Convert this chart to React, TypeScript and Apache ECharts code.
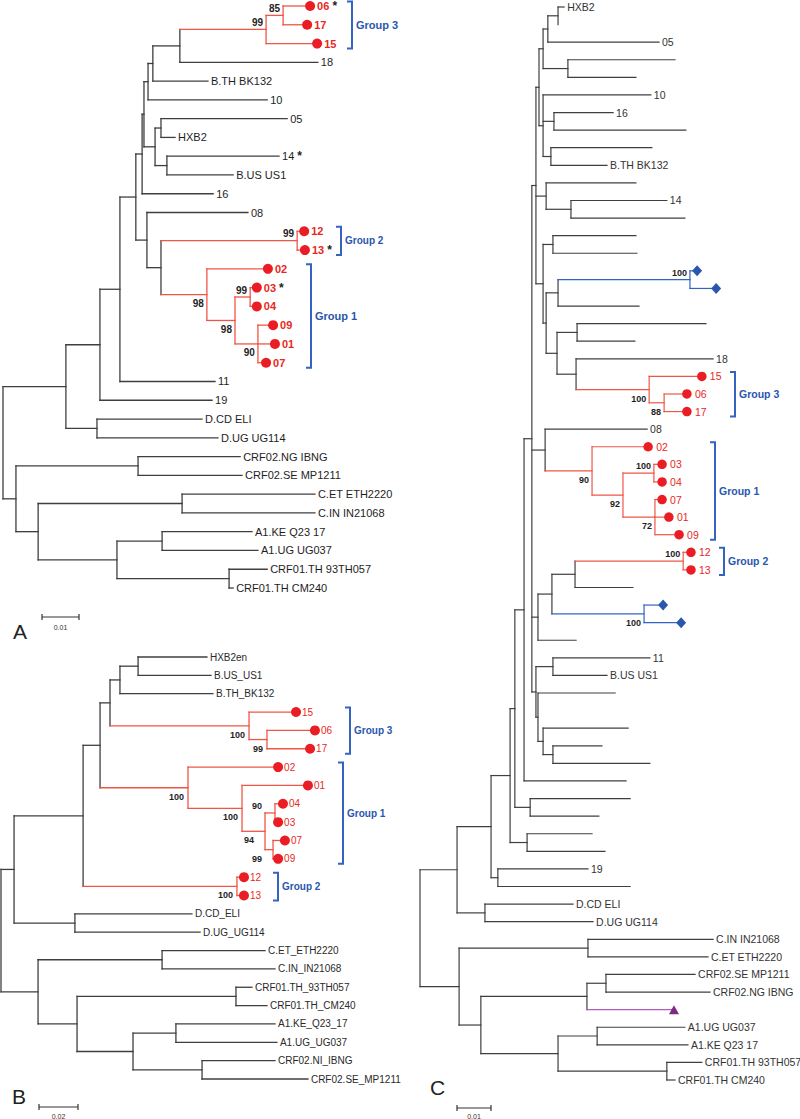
import React, { useEffect, useRef } from "react";
import * as echarts from "echarts";

type Row = [string, string, number]; // node id, parent id, depth from root (substitutions/site)

// ---------------- Panel A ----------------
const treeA: Row[] = [
  ["rA", "", 0],
  ["U", "rA", 0.017],
  ["B1", "U", 0.0262],
  ["C1", "B1", 0.0316],
  ["E1", "C1", 0.0359],
  ["F1", "E1", 0.0376],
  ["F2", "F1", 0.0381],
  ["F3", "F2", 0.0392],
  ["F3b", "F3", 0.0405],
  ["F3c", "F3b", 0.0478],
  ["G3", "F3c", 0.0711],
  ["G3b", "G3", 0.0757],
  ["06", "G3b", 0.083],
  ["17", "G3b", 0.0822],
  ["15", "G3", 0.0849],
  ["18", "F3c", 0.0851],
  ["B.TH BK132", "F3b", 0.0554],
  ["10", "F3", 0.0714],
  ["F4", "F2", 0.0411],
  ["n05", "F4", 0.0427],
  ["05", "n05", 0.0768],
  ["HXB2", "n05", 0.0465],
  ["n14", "F4", 0.0443],
  ["14", "n14", 0.0746],
  ["B.US US1", "n14", 0.0622],
  ["16", "F1", 0.0568],
  ["G1n", "E1", 0.0389],
  ["08", "G1n", 0.0662],
  ["H", "G1n", 0.0427],
  ["G2", "H", 0.0795],
  ["12", "G2", 0.0814],
  ["13", "G2", 0.0816],
  ["G1r", "H", 0.0551],
  ["02", "G1r", 0.0716],
  ["n235", "G1r", 0.0627],
  ["n0304", "n235", 0.0668],
  ["03", "n0304", 0.0686],
  ["04", "n0304", 0.0686],
  ["n258", "n235", 0.0689],
  ["09", "n258", 0.073],
  ["01", "n258", 0.0735],
  ["07", "n258", 0.0711],
  ["11", "C1", 0.0573],
  ["19", "B1", 0.0565],
  ["Dn", "U", 0.0254],
  ["D.CD ELI", "Dn", 0.0538],
  ["D.UG UG114", "Dn", 0.0581],
  ["L0", "rA", 0.0035],
  ["CRF02n", "L0", 0.0365],
  ["CRF02.NG IBNG", "CRF02n", 0.0641],
  ["CRF02.SE MP1211", "CRF02n", 0.0646],
  ["L1", "L0", 0.0095],
  ["Cn", "L1", 0.0484],
  ["C.ET ETH2220", "Cn", 0.0843],
  ["C.IN IN21068", "Cn", 0.0843],
  ["L2", "L1", 0.0308],
  ["A1n", "L2", 0.043],
  ["A1.KE Q23 17", "A1n", 0.0673],
  ["A1.UG UG037", "A1n", 0.0689],
  ["CRF01n", "L2", 0.0611],
  ["CRF01.TH 93TH057", "CRF01n", 0.0714],
  ["CRF01.TH CM240", "CRF01n", 0.0622],
];
const aRedClades = ["G3", "G2", "G1r"];
const aGroupLeaves = ["06", "17", "15", "12", "13", "02", "03", "04", "09", "01", "07"];
const aStarLeaves = ["06", "13", "03", "14"];
const aBootNodes = ["G3b", "G3", "G2", "n0304", "G1r", "n235", "n258"];
const aBootValues = [85, 99, 99, 99, 98, 98, 90];
const aGroupNames = ["Group 3", "Group 2", "Group 1"];
const aGroupSpans = [["06", "15"], ["12", "13"], ["02", "07"]];
const aScale = 0.01;

// ---------------- Panel B ----------------
const treeB: Row[] = [
  ["rB", "", 0],
  ["BU", "rB", 0.0067],
  ["n83", "BU", 0.0421],
  ["n100", "n83", 0.0508],
  ["n110", "n100", 0.0559],
  ["n120", "n110", 0.061],
  ["n138", "n120", 0.0703],
  ["HXB2en", "n138", 0.1056],
  ["B.US_US1", "n138", 0.1077],
  ["B.TH_BK132", "n120", 0.1087],
  ["G3", "n110", 0.1272],
  ["15", "G3", 0.1513],
  ["G3b", "G3", 0.1364],
  ["06", "G3b", 0.161],
  ["17", "G3b", 0.1585],
  ["G1r", "n100", 0.0959],
  ["02", "G1r", 0.1421],
  ["n242", "G1r", 0.1236],
  ["01", "n242", 0.1574],
  ["n265", "n242", 0.1354],
  ["n0403", "n265", 0.1405],
  ["04", "n0403", 0.1446],
  ["03", "n0403", 0.1421],
  ["n0709", "n265", 0.1395],
  ["07", "n0709", 0.1456],
  ["09", "n0709", 0.1421],
  ["G2", "n83", 0.121],
  ["12", "G2", 0.1246],
  ["13", "G2", 0.1246],
  ["Dn", "BU", 0.0379],
  ["D.CD_ELI", "Dn", 0.0979],
  ["D.UG_UG114", "Dn", 0.1021],
  ["LB", "rB", 0.019],
  ["Cn", "LB", 0.0826],
  ["C.ET_ETH2220", "Cn", 0.1354],
  ["C.IN_IN21068", "Cn", 0.1405],
  ["n77", "LB", 0.039],
  ["CRF01n", "n77", 0.1205],
  ["CRF01.TH_93TH057", "CRF01n", 0.1287],
  ["CRF01.TH_CM240", "CRF01n", 0.1364],
  ["n133", "n77", 0.0677],
  ["A1n", "n133", 0.0897],
  ["A1.KE_Q23_17", "A1n", 0.1405],
  ["A1.UG_UG037", "A1n", 0.1415],
  ["CRF02n", "n133", 0.1031],
  ["CRF02.NI_IBNG", "CRF02n", 0.1405],
  ["CRF02.SE_MP1211", "CRF02n", 0.1574],
];
const bRedClades = ["G3", "G1r", "G2"];
const bGroupLeaves = ["15", "06", "17", "02", "01", "04", "03", "07", "09", "12", "13"];
const bBootNodes = ["G3", "G3b", "G1r", "n242", "n0403", "n265", "n0709", "G2"];
const bBootValues = [100, 99, 100, 100, 90, 94, 99, 100];
const bGroupNames = ["Group 3", "Group 1", "Group 2"];
const bGroupSpans = [["15", "17"], ["02", "09"], ["12", "13"]];
const bScale = 0.02;

// ---------------- Panel C ----------------
const treeC: Row[] = [
  ["rC", "", 0],
  ["U", "rC", 0.0109],
  ["V", "U", 0.0209],
  ["W", "V", 0.0265],
  ["R3", "W", 0.0279],
  ["R2", "R3", 0.0306],
  ["R1", "R2", 0.0329],
  ["M4", "R1", 0.0341],
  ["a5", "M4", 0.035],
  ["a4", "a5", 0.0362],
  ["a2", "a4", 0.0376],
  ["a1", "a2", 0.0406],
  ["HXB2", "a1", 0.0424],
  ["_z1", "a1", 0.0406],
  ["05", "a2", 0.0703],
  ["a3", "a4", 0.0435],
  ["_u3", "a3", 0.075],
  ["_u4", "a3", 0.0635],
  ["a6", "a5", 0.0362],
  ["10", "a6", 0.0679],
  ["a7", "a6", 0.0394],
  ["16", "a7", 0.0568],
  ["_u7", "a7", 0.0782],
  ["a8", "a6", 0.0385],
  ["_u8", "a8", 0.0682],
  ["B.TH BK132", "a8", 0.055],
  ["b1", "M4", 0.0371],
  ["_u10", "b1", 0.0635],
  ["b2", "b1", 0.0444],
  ["14", "b2", 0.0726],
  ["_u12", "b2", 0.0779],
  ["M3", "M4", 0.0362],
  ["c1", "M3", 0.0391],
  ["_u13", "c1", 0.0635],
  ["_u14", "c1", 0.0638],
  ["M1", "M3", 0.0371],
  ["d2", "M1", 0.0406],
  ["d1", "d2", 0.0794],
  ["_b1", "d1", 0.0815],
  ["_b2", "d1", 0.0871],
  ["_u17", "d2", 0.0644],
  ["d4", "M1", 0.0403],
  ["d3", "d4", 0.0462],
  ["_u18", "d3", 0.0841],
  ["_u19", "d3", 0.0632],
  ["g3p", "d4", 0.0459],
  ["18", "g3p", 0.0862],
  ["g3", "g3p", 0.0674],
  ["15", "g3", 0.0829],
  ["g3b", "g3", 0.0718],
  ["06", "g3b", 0.0785],
  ["17", "g3b", 0.0785],
  ["N08", "R1", 0.0368],
  ["08", "N08", 0.0668],
  ["G1r", "N08", 0.0506],
  ["02", "G1r", 0.0671],
  ["n92", "G1r", 0.0597],
  ["n100", "n92", 0.0688],
  ["03", "n100", 0.0712],
  ["04", "n100", 0.0712],
  ["n72", "n92", 0.0691],
  ["07", "n72", 0.0712],
  ["01", "n72", 0.0732],
  ["09", "n72", 0.0762],
  ["e4", "R1", 0.0347],
  ["e3", "e4", 0.0388],
  ["e1", "e3", 0.0456],
  ["G2", "e1", 0.0774],
  ["12", "G2", 0.0797],
  ["13", "G2", 0.0797],
  ["_u33", "e1", 0.0626],
  ["e2", "e3", 0.0659],
  ["_b3", "e2", 0.0715],
  ["_b4", "e2", 0.0768],
  ["_u36", "e4", 0.0459],
  ["L1", "R1", 0.0341],
  ["f1", "L1", 0.0391],
  ["11", "f1", 0.0676],
  ["B.US US1", "f1", 0.055],
  ["L2", "L1", 0.0347],
  ["_u39", "L2", 0.0574],
  ["_z40", "L2", 0.0347],
  ["Nb", "L2", 0.0362],
  ["_u41", "Nb", 0.0612],
  ["Na", "Nb", 0.0391],
  ["_u42", "Na", 0.0535],
  ["_u43", "Na", 0.0676],
  ["_u44", "R2", 0.0606],
  ["Nd", "R3", 0.0324],
  ["_u45", "Nd", 0.0618],
  ["_u46", "Nd", 0.0526],
  ["Nf", "W", 0.0315],
  ["_u47", "Nf", 0.0506],
  ["_u48", "Nf", 0.0544],
  ["n19", "V", 0.0229],
  ["19", "n19", 0.0494],
  ["_u50", "n19", 0.0618],
  ["Dn", "U", 0.0191],
  ["D.CD ELI", "Dn", 0.045],
  ["D.UG UG114", "Dn", 0.0509],
  ["L", "rC", 0.0115],
  ["Cn", "L", 0.0494],
  ["C.IN IN21068", "Cn", 0.0862],
  ["C.ET ETH2220", "Cn", 0.0847],
  ["k3", "L", 0.0179],
  ["k1", "k3", 0.0491],
  ["CRF02n", "k1", 0.0547],
  ["CRF02.SE MP1211", "CRF02n", 0.0809],
  ["CRF02.NG IBNG", "CRF02n", 0.0853],
  ["_t1", "k1", 0.0747],
  ["k2", "k3", 0.0406],
  ["A1n", "k2", 0.0521],
  ["A1.UG UG037", "A1n", 0.0779],
  ["A1.KE Q23 17", "A1n", 0.0788],
  ["CRF01n", "k2", 0.0726],
  ["CRF01.TH 93TH057", "CRF01n", 0.0829],
  ["CRF01.TH CM240", "CRF01n", 0.075],
];
const cRedClades = ["g3", "G1r", "G2"];
const cBlueClades = ["d1", "e2"];
const cPurpleLeaves = ["_t1"];
const cGroupLeaves = ["15", "06", "17", "02", "03", "04", "07", "01", "09", "12", "13"];
const cBlueLeaves = ["_b1", "_b2", "_b3", "_b4"];
const cBootNodes = ["d1", "g3", "g3b", "G1r", "n92", "n100", "n72", "G2", "e2"];
const cBootValues = [100, 100, 88, 90, 92, 100, 72, 100, 100];
const cGroupNames = ["Group 3", "Group 1", "Group 2"];
const cGroupSpans = [["15", "17"], ["02", "09"], ["12", "13"]];
const cScale = 0.01;

// ---------------- styles ----------------
const FONT = '"Liberation Sans", Arial, Helvetica, sans-serif';
const BLACK_LINE = "#3f3f3f";
const RED_LINE = "#ef5646";
const RED_DOT = "#ea1c24";
const RED_TEXT = "#e8281e";
const BLUE_LINE = "#3563c2";
const BLUE = "#2a56ad";
const PURPLE_LINE = "#b35bc0";
const PURPLE = "#7a2a80";

function layout(rows: Row[]) {
  const kids: Record<string, string[]> = {};
  const depth: Record<string, number> = {};
  const parent: Record<string, string> = {};
  let root = "";
  rows.forEach(([id, p, d]) => {
    depth[id] = d;
    parent[id] = p;
    if (!p) root = id;
    else (kids[p] = kids[p] || []).push(id);
  });
  const y: Record<string, number> = {};
  const leaves: string[] = [];
  const visit = (id: string) => {
    const ch = kids[id];
    if (!ch) {
      y[id] = leaves.length;
      leaves.push(id);
      return;
    }
    ch.forEach(visit);
    y[id] = (y[ch[0]] + y[ch[ch.length - 1]]) / 2;
  };
  visit(root);
  return { kids, depth, parent, y, leaves, root, ids: rows.map((r) => r[0]) };
}

const panels: any[] = [
  {
    L: layout(treeA),
    grid: { left: 3, top: 6, width: 370, height: 582 },
    xMax: 0.1,
    clades: Object.fromEntries(aRedClades.map((c) => [c, RED_LINE])),
    dots: aGroupLeaves, diamonds: [] as string[], triangles: [] as string[], stars: aStarLeaves,
    bootNodes: aBootNodes, bootValues: aBootValues,
    bootAbove: ["G3b", "G3", "G2", "n0304"], bootDx: {} as Record<string, number>,
    groupNames: aGroupNames, groupSpans: aGroupSpans,
    scale: aScale,
    st: {
      size: 11, color: "#1e1e1e", off: 3, dotOff: 7, redSize: 11, redWeight: "bold", dot: 10,
      boot: 10, bootDx: -3, groupX: [352, 341, 311], groupSize: [11, 10, 11], lw: 1.3,
      scaleX: 42, scaleY: 617, scaleTextY: 627, letter: "A", letterX: 13, letterY: 633,
    },
  },
  {
    L: layout(treeB),
    grid: { left: 1, top: 657, width: 390, height: 422 },
    xMax: 0.2,
    clades: Object.fromEntries(bRedClades.map((c) => [c, RED_LINE])),
    dots: bGroupLeaves, diamonds: [] as string[], triangles: [] as string[], stars: [] as string[],
    bootNodes: bBootNodes, bootValues: bBootValues,
    bootAbove: ["n0403"], bootDx: { n0403: -13, n265: -11, n0709: -11 } as Record<string, number>,
    groupNames: bGroupNames, groupSpans: bGroupSpans,
    scale: bScale,
    st: {
      size: 10, color: "#2a2a2a", off: 3, dotOff: 6, redSize: 10, redWeight: "normal", dot: 10,
      boot: 9, bootDx: -4, groupX: [350, 343, 278], groupSize: [10, 10, 10], lw: 1.3,
      scaleX: 39, scaleY: 1107, scaleTextY: 1116, letter: "B", letterX: 12, letterY: 1098,
    },
  },
  {
    L: layout(treeC),
    grid: { left: 420, top: 7, width: 340, height: 1073 },
    xMax: 0.1,
    clades: {
      ...Object.fromEntries(cRedClades.map((c) => [c, RED_LINE])),
      ...Object.fromEntries(cBlueClades.map((c) => [c, BLUE_LINE])),
      ...Object.fromEntries(cPurpleLeaves.map((c) => [c, PURPLE_LINE])),
    },
    dots: cGroupLeaves, diamonds: cBlueLeaves, triangles: cPurpleLeaves, stars: [] as string[],
    bootNodes: cBootNodes, bootValues: cBootValues,
    bootAbove: ["d1", "n100", "G2"], bootDx: {} as Record<string, number>,
    groupNames: cGroupNames, groupSpans: cGroupSpans,
    scale: cScale,
    st: {
      size: 10.5, color: "#333333", off: 3, dotOff: 8, redSize: 10.5, redWeight: "normal", dot: 9.5,
      boot: 9, bootDx: -3, groupX: [735, 715, 724], groupSize: [10.5, 10.5, 10.5], lw: 1.2,
      scaleX: 457, scaleY: 1108, scaleTextY: 1116, letter: "C", letterX: 430, letterY: 1089,
    },
  },
];

function colorOf(P: any, id: string) {
  let c = id;
  while (c) {
    if (P.clades[c]) return P.clades[c];
    c = P.L.parent[c];
  }
  return BLACK_LINE;
}

function buildSeries(P: any, idx: number) {
  const L = P.L;
  const st = P.st;
  const ids: string[] = L.ids;
  const series: any[] = [];

  // branches
  series.push({
    type: "custom", xAxisIndex: idx, yAxisIndex: idx, silent: true, clip: false, z: 2,
    data: ids.map((id) => [L.depth[id], L.y[id]]),
    renderItem: (params: any, api: any) => {
      const id = ids[params.dataIndex];
      const col = colorOf(P, id);
      const p = L.parent[id];
      const pd = p ? L.depth[p] : L.depth[id];
      const a = api.coord([pd, L.y[id]]);
      const b = api.coord([L.depth[id], L.y[id]]);
      const children: any[] = [
        { type: "line", shape: { x1: a[0], y1: a[1], x2: b[0], y2: b[1] }, style: { stroke: col, lineWidth: st.lw, lineCap: "square" } },
      ];
      const ch = L.kids[id];
      if (ch) {
        const t = api.coord([L.depth[id], L.y[ch[0]]]);
        const bt = api.coord([L.depth[id], L.y[ch[ch.length - 1]]]);
        children.push({ type: "line", shape: { x1: t[0], y1: t[1], x2: bt[0], y2: bt[1] }, style: { stroke: col, lineWidth: st.lw, lineCap: "square" } });
      }
      return { type: "group", children };
    },
  });

  // markers
  const mk = (list: string[], symbol: string, size: any, color: string) => ({
    type: "scatter", xAxisIndex: idx, yAxisIndex: idx, silent: true, z: 5, symbol, symbolSize: size,
    itemStyle: { color, opacity: 1 },
    data: list.map((id) => [L.depth[id], L.y[id]]),
  });
  if (P.dots.length) series.push(mk(P.dots, "circle", st.dot, RED_DOT));
  if (P.diamonds.length) series.push(mk(P.diamonds, "diamond", [10, 11], BLUE));
  if (P.triangles.length) series.push(mk(P.triangles, "triangle", [10, 9], PURPLE));

  // leaf labels
  const labeled = L.leaves.filter((id: string) => !id.startsWith("_"));
  series.push({
    type: "custom", xAxisIndex: idx, yAxisIndex: idx, silent: true, clip: false, z: 6,
    data: labeled.map((id: string) => [L.depth[id], L.y[id]]),
    renderItem: (params: any, api: any) => {
      const id = labeled[params.dataIndex];
      const pt = api.coord([L.depth[id], L.y[id]]);
      const isDot = P.dots.includes(id);
      const star = P.stars.includes(id);
      const fill = isDot ? RED_TEXT : st.color;
      const fontSize = isDot ? st.redSize : st.size;
      const fontWeight = isDot ? st.redWeight : "normal";
      const style: any = {
        text: star ? `{a|${id}} {b|*}` : id,
        fill, fontSize, fontWeight, fontFamily: FONT, align: "left", verticalAlign: "middle",
      };
      if (star) {
        style.rich = {
          a: { fill, fontSize, fontWeight, fontFamily: FONT },
          b: { fill: "#1e1e1e", fontSize: 12, fontWeight: "bold", fontFamily: FONT },
        };
      }
      return { type: "text", x: pt[0] + (isDot ? st.dotOff : st.off), y: pt[1], style };
    },
  });

  // bootstrap values
  series.push({
    type: "custom", xAxisIndex: idx, yAxisIndex: idx, silent: true, clip: false, z: 6,
    data: P.bootNodes.map((id: string) => [L.depth[id], L.y[id]]),
    renderItem: (params: any, api: any) => {
      const id = P.bootNodes[params.dataIndex];
      const val = P.bootValues[params.dataIndex];
      const pt = api.coord([L.depth[id], L.y[id]]);
      const above = P.bootAbove.includes(id);
      const dx = P.bootDx[id] !== undefined ? P.bootDx[id] : st.bootDx;
      return {
        type: "text", x: pt[0] + dx, y: pt[1] + (above ? -7 : 9),
        style: { text: String(val), fill: "#1e1e1e", fontSize: st.boot, fontWeight: "bold", fontFamily: FONT, align: "right", verticalAlign: "middle" },
      };
    },
  });

  // group brackets
  series.push({
    type: "custom", xAxisIndex: idx, yAxisIndex: idx, silent: true, clip: false, z: 6,
    data: P.groupSpans.map((s: string[]) => [0, (L.y[s[0]] + L.y[s[1]]) / 2]),
    renderItem: (params: any, api: any) => {
      const i = params.dataIndex;
      const s = P.groupSpans[i];
      const top = api.coord([0, L.y[s[0]]])[1] - 4.5;
      const bot = api.coord([0, L.y[s[1]]])[1] + 5;
      const x = st.groupX[i];
      return {
        type: "group",
        children: [
          { type: "polyline", shape: { points: [[x - 5, top], [x, top], [x, bot], [x - 5, bot]] }, style: { stroke: BLUE_LINE, lineWidth: 2, fill: null } },
          {
            type: "text", x: x + 4, y: (top + bot) / 2,
            style: { text: P.groupNames[i], fill: BLUE, fontSize: st.groupSize[i], fontWeight: "bold", fontFamily: FONT, align: "left", verticalAlign: "middle" },
          },
        ],
      };
    },
  });

  // scale bar
  series.push({
    type: "custom", xAxisIndex: idx, yAxisIndex: idx, silent: true, clip: false, z: 6,
    data: [[0, 0]],
    renderItem: (params: any, api: any) => {
      const len = api.size([P.scale, 0])[0];
      const x0 = st.scaleX, y0 = st.scaleY;
      return {
        type: "group",
        children: [
          { type: "line", shape: { x1: x0, y1: y0, x2: x0 + len, y2: y0 }, style: { stroke: "#333", lineWidth: 1.2 } },
          { type: "line", shape: { x1: x0, y1: y0 - 3, x2: x0, y2: y0 + 3 }, style: { stroke: "#333", lineWidth: 1.2 } },
          { type: "line", shape: { x1: x0 + len, y1: y0 - 3, x2: x0 + len, y2: y0 + 3 }, style: { stroke: "#333", lineWidth: 1.2 } },
          {
            type: "text", x: x0 + len / 2, y: st.scaleTextY,
            style: { text: String(P.scale), fill: "#333", fontSize: 7, fontFamily: FONT, align: "center", verticalAlign: "middle" },
          },
        ],
      };
    },
  });

  return series;
}

export default function App() {
  const ref = useRef<HTMLDivElement>(null);
  useEffect(() => {
    if (!ref.current) return;
    const chart = echarts.init(ref.current, undefined, { renderer: "svg" });
    const option: any = {
      animation: false,
      backgroundColor: "#ffffff",
      grid: panels.map((P) => ({ ...P.grid, containLabel: false })),
      xAxis: panels.map((P, i) => ({ type: "value", gridIndex: i, min: 0, max: P.xMax, show: false })),
      yAxis: panels.map((P, i) => ({
        type: "value", gridIndex: i, min: 0, max: P.L.leaves.length - 1, inverse: true, show: false,
      })),
      series: panels.flatMap((P, i) => buildSeries(P, i)),
      graphic: panels.map((P) => ({
        type: "text", left: P.st.letterX, top: P.st.letterY - 12, silent: true,
        style: { text: P.st.letter, fill: "#222", fontSize: 21, fontFamily: FONT },
      })),
    };
    chart.setOption(option);
    return () => chart.dispose();
  }, []);
  return (
    <div
      ref={ref}
      style={{ position: "absolute", left: 0, top: 0, width: 800, height: 1119, background: "#fff" }}
    />
  );
}
